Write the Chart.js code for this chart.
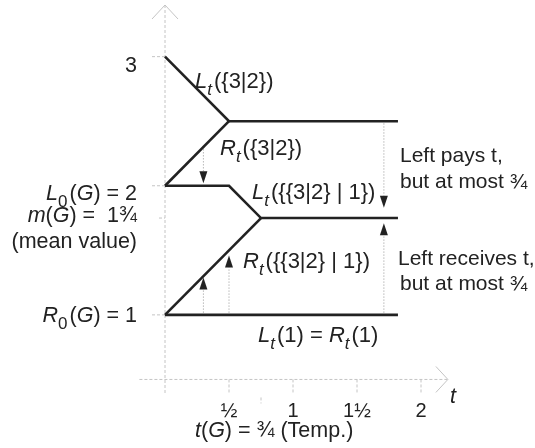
<!DOCTYPE html>
<html><head><meta charset="utf-8">
<script src="https://cdn.jsdelivr.net/npm/chart.js@4.4.1/dist/chart.umd.min.js"></script>
<style>html,body{margin:0;padding:0;background:#fff}canvas{display:block}</style>
</head><body>
<canvas id="c" width="535" height="448"></canvas>
<script>
// Thermograph of G = {{3|2} | 1}
const xTickValues = [0.5, 1, 1.5, 2];
const xTickLabels = ['½', '1', '1½', '2'];
const yTickValues = [3, 2, 1.75, 1];
const tempValue = 0.75;

// wall lines: temperature t and value
const leftInnerT = [0, 0.5, 1.82];         const leftInnerV = [3, 2.5, 2.5];          // L_t({3|2})
const rightInnerT = [0, 0.5];              const rightInnerV = [2, 2.5];              // R_t({3|2})
const leftGameT = [0, 0.5, 0.75, 1.82];    const leftGameV = [2, 2, 1.75, 1.75];      // L_t({{3|2}|1})
const rightGameT = [0, 0.75];              const rightGameV = [1, 1.75];              // R_t({{3|2}|1})
const oneT = [0, 1.82];                    const oneV = [1, 1];                       // L_t(1) = R_t(1)

// tax arrows: temperature, start value, tip value
const arrowT = [0.3, 1.71, 1.71, 0.3, 0.5];
const arrowFrom = [2.3, 2.5, 1, 1, 1];
const arrowTip = [2.02, 1.83, 1.71, 1.29, 1.46];

const FONT = '"Liberation Sans", Arial, Helvetica, sans-serif';
const INK = '#222';
const AXIS = '#c4c4c4';

const pts = (ts, vs) => ts.map((t, i) => ({ x: t, y: vs[i] }));
const wall = (label, ts, vs) => ({
  label, data: pts(ts, vs), showLine: true, borderColor: INK, borderWidth: 2.6,
  pointRadius: 0, fill: false, tension: 0, borderJoinStyle: 'miter', borderCapStyle: 'butt'
});

// rich text: parts are [text, style]; style n=normal, i=italic, s=italic subscript, d=upright subscript
function rich(ctx, parts, x, y, align, size) {
  size = size || 21.5;
  const sub = Math.round(size * 0.78);
  const isSub = s => s === 's' || s === 'd';
  const fontOf = s => (s === 'i' || s === 's' ? 'italic ' : '') + (isSub(s) ? sub : size) + 'px ' + FONT;
  let total = 0;
  const widths = parts.map(([txt, st]) => { ctx.font = fontOf(st); const w = ctx.measureText(txt).width + (isSub(st) ? 2 : 0); total += w; return w; });
  if (align === 'right') x -= total; else if (align === 'center') x -= total / 2;
  ctx.textAlign = 'left'; ctx.textBaseline = 'alphabetic'; ctx.fillStyle = INK;
  parts.forEach(([txt, st], i) => {
    ctx.font = fontOf(st);
    ctx.fillText(txt, x, y + (isSub(st) ? 7 : 0));
    x += widths[i];
  });
}

const diagram = {
  id: 'diagram',
  beforeDatasetsDraw(chart) {
    const { ctx, scales: { x, y } } = chart;
    ctx.save();
    ctx.strokeStyle = AXIS; ctx.lineWidth = 1;
    const x0 = x.getPixelForValue(0), yAx = y.getPixelForValue(0.5);
    // vertical axis
    ctx.setLineDash([3, 2]);
    ctx.beginPath(); ctx.moveTo(x0, y.getPixelForValue(3.4)); ctx.lineTo(x0, y.getPixelForValue(0.38)); ctx.stroke();
    // horizontal axis
    ctx.beginPath(); ctx.moveTo(x.getPixelForValue(-0.2), yAx); ctx.lineTo(x.getPixelForValue(2.21), yAx); ctx.stroke();
    // ticks
    yTickValues.forEach(v => {
      const py = y.getPixelForValue(v);
      ctx.beginPath(); ctx.moveTo(x0 - (v === 1.75 ? 6 : 13), py); ctx.lineTo(x0, py); ctx.stroke();
    });
    xTickValues.forEach(v => {
      const px = x.getPixelForValue(v);
      ctx.beginPath(); ctx.moveTo(px, yAx); ctx.lineTo(px, yAx + 13); ctx.stroke();
    });
    const pt = x.getPixelForValue(tempValue);
    ctx.beginPath(); ctx.moveTo(pt, yAx + 18); ctx.lineTo(pt, yAx + 24); ctx.stroke();
    // axis arrowheads
    ctx.setLineDash([]);
    const top = y.getPixelForValue(3.4);
    ctx.beginPath(); ctx.moveTo(x0 - 13, top + 14); ctx.lineTo(x0, top); ctx.lineTo(x0 + 13, top + 14); ctx.stroke();
    const right = x.getPixelForValue(2.21);
    ctx.beginPath(); ctx.moveTo(right - 12, yAx - 13); ctx.lineTo(right, yAx); ctx.lineTo(right - 12, yAx + 13); ctx.stroke();
    ctx.restore();
  },
  afterDatasetsDraw(chart) {
    const { ctx, scales: { x, y } } = chart;
    ctx.save();
    // tax arrows
    arrowT.forEach((t, i) => {
      const px = x.getPixelForValue(t);
      const p0 = y.getPixelForValue(arrowFrom[i]);
      const tip = y.getPixelForValue(arrowTip[i]);
      const dir = tip > p0 ? 1 : -1;
      const base = tip - dir * 12;
      ctx.strokeStyle = '#b8b8b8'; ctx.lineWidth = 1; ctx.setLineDash([1.5, 1.5]);
      ctx.beginPath(); ctx.moveTo(px, p0 + dir * 2); ctx.lineTo(px, base); ctx.stroke();
      ctx.setLineDash([]); ctx.fillStyle = INK;
      ctx.beginPath(); ctx.moveTo(px - 4, base); ctx.lineTo(px + 4, base); ctx.lineTo(px, tip); ctx.closePath(); ctx.fill();
    });
    // left-hand value labels
    const lx = x.getPixelForValue(0) - 28;
    rich(ctx, [['3', 'n']], lx, y.getPixelForValue(3) + 15, 'right');
    rich(ctx, [['L', 'i'], ['0', 'd'], ['(', 'n'], ['G', 'i'], [') = 2', 'n']], lx, y.getPixelForValue(2) + 14, 'right');
    rich(ctx, [['m', 'i'], ['(', 'n'], ['G', 'i'], [') =  1¾', 'n']], lx, y.getPixelForValue(1.75) + 4, 'right');
    rich(ctx, [['(mean value)', 'n']], lx, y.getPixelForValue(1.75) + 30, 'right');
    rich(ctx, [['R', 'i'], ['0', 'd'], ['(', 'n'], ['G', 'i'], [') = 1', 'n']], lx, y.getPixelForValue(1) + 7, 'right');
    // wall labels
    rich(ctx, [['L', 'i'], ['t', 's'], ['({3|2})', 'n']], 195, 88, 'left', 22);
    rich(ctx, [['R', 'i'], ['t', 's'], ['({3|2})', 'n']], 220, 155, 'left', 22);
    rich(ctx, [['L', 'i'], ['t', 's'], ['({{3|2} | 1})', 'n']], 252, 199, 'left', 22);
    rich(ctx, [['R', 'i'], ['t', 's'], ['({{3|2} | 1})', 'n']], 243, 268, 'left', 22);
    rich(ctx, [['L', 'i'], ['t', 's'], ['(1) = ', 'n'], ['R', 'i'], ['t', 's'], ['(1)', 'n']], 258, 342, 'left', 22);
    // notes
    rich(ctx, [['Left pays t,', 'n']], 400, 162, 'left', 21);
    rich(ctx, [['but at most ¾', 'n']], 400, 188, 'left', 21);
    rich(ctx, [['Left receives t,', 'n']], 398, 265, 'left', 21);
    rich(ctx, [['but at most ¾', 'n']], 400, 290, 'left', 21);
    // horizontal tick labels
    const yAx = y.getPixelForValue(0.5);
    xTickValues.forEach((v, i) => rich(ctx, [[xTickLabels[i], 'n']], x.getPixelForValue(v), yAx + 38, 'center', 20));
    rich(ctx, [['t', 'i']], x.getPixelForValue(2.21) + 2, yAx + 24, 'left');
    rich(ctx, [['t', 'i'], ['(', 'n'], ['G', 'i'], [') = ¾ (Temp.)', 'n']], 195, yAx + 58, 'left');
    ctx.restore();
  }
};

new Chart(document.getElementById('c'), {
  type: 'scatter',
  data: {
    datasets: [
      wall('L_t({3|2})', leftInnerT, leftInnerV),
      wall('R_t({3|2})', rightInnerT, rightInnerV),
      wall('L_t({{3|2}|1})', leftGameT, leftGameV),
      wall('R_t({{3|2}|1})', rightGameT, rightGameV),
      wall('L_t(1) = R_t(1)', oneT, oneV)
    ]
  },
  options: {
    responsive: false, animation: false, events: [],
    layout: { padding: { left: 5, right: 18, top: 5, bottom: 4 } },
    plugins: { legend: { display: false }, tooltip: { enabled: false } },
    scales: {
      x: { type: 'linear', min: -1.25, max: 2.75, display: false },
      y: { type: 'linear', min: 0, max: 3.4, display: false }
    }
  },
  plugins: [diagram]
});
</script>
</body></html>
